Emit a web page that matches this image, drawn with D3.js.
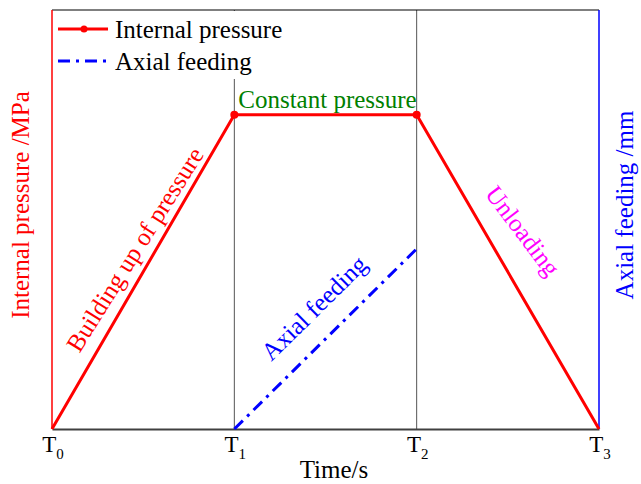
<!DOCTYPE html>
<html><head><meta charset="utf-8">
<script src="https://cdn.jsdelivr.net/npm/d3@7"></script>
<style>body{margin:0;background:#fff}text{font-family:"Liberation Serif","Times New Roman",serif}</style>
</head><body>
<script>
const times = [0, 1, 2, 3];
const tickLabels = ["0", "1", "2", "3"];
const pressureT = [0, 1, 2, 3];
const pressureV = [0, 0.75, 0.75, 0];
const markerIdx = [1, 2];
const feedT = [1, 2];
const feedV = [0, 0.43];
const phases = ["Building up of pressure", "Constant pressure", "Axial feeding", "Unloading"];

const W = 641, H = 484;
const m = {l: 52, r: 42, t: 10, b: 55};
const FS = 25;
const svg = d3.select("body").append("svg").attr("width", W).attr("height", H);
const x = d3.scaleLinear().domain([0, 3]).range([m.l, W - m.r]);
const y = d3.scaleLinear().domain([0, 1]).range([H - m.b, m.t]);
const y2 = d3.scaleLinear().domain([0, 1]).range([H - m.b, m.t]);

// vertical guide lines
svg.selectAll(".vg").data([1, 2]).enter().append("line")
  .attr("x1", d => x(d)).attr("x2", d => x(d))
  .attr("y1", y(1)).attr("y2", y(0)).attr("stroke", "#555").attr("stroke-width", 1);

// frame
svg.append("line").attr("x1", x(0)).attr("x2", x(3)).attr("y1", y(1)).attr("y2", y(1)).attr("stroke", "#000").attr("stroke-width", 1.2);
svg.append("line").attr("x1", x(0)).attr("x2", x(0)).attr("y1", y(1)).attr("y2", y(0)).attr("stroke", "#ff0000").attr("stroke-width", 1.5);
svg.append("line").attr("x1", x(3)).attr("x2", x(3)).attr("y1", y(1)).attr("y2", y(0)).attr("stroke", "#0000ff").attr("stroke-width", 1.5);

// legend background (covers guide)
const lg = svg.append("g");
lg.append("rect").attr("x", x(0) + 1).attr("y", y(1) + 1).attr("width", 240).attr("height", 68).attr("fill", "#fff");
lg.append("line").attr("x1", 58).attr("x2", 108).attr("y1", 29).attr("y2", 29).attr("stroke", "#ff0000").attr("stroke-width", 3);
lg.append("circle").attr("cx", 84).attr("cy", 29).attr("r", 3.5).attr("fill", "#ff0000");
lg.append("text").attr("x", 115).attr("y", 38).attr("font-size", FS).text("Internal pressure");
lg.append("line").attr("x1", 58).attr("x2", 108).attr("y1", 61).attr("y2", 61).attr("stroke", "#0000ff").attr("stroke-width", 3).attr("stroke-dasharray", "12,6,3,6");
lg.append("text").attr("x", 115).attr("y", 70).attr("font-size", FS).text("Axial feeding");

// x axis
const xAxis = d3.axisBottom(x).tickValues(times).tickSize(0).tickFormat("");
const ax = svg.append("g").attr("transform", `translate(0,${y(0)})`).call(xAxis);
ax.select(".domain").attr("stroke", "#404040").attr("stroke-width", 2.2);
const tl = svg.selectAll(".tl").data(times).enter().append("text")
  .attr("x", d => x(d) + 1).attr("y", y(0) + 23).attr("font-size", 23).attr("text-anchor", "middle");
tl.append("tspan").text("T");
tl.append("tspan").attr("dy", 7).attr("font-size", 15).text((d, i) => tickLabels[i]);

svg.append("text").attr("x", 334).attr("y", 478).attr("font-size", FS).attr("text-anchor", "middle").text("Time/s");
svg.append("text").attr("transform", "translate(29,205) rotate(-90)").attr("font-size", FS).attr("text-anchor", "middle").attr("fill", "#ff0000").text("Internal pressure /MPa");
svg.append("text").attr("transform", "translate(633,205) rotate(-90)").attr("font-size", FS).attr("text-anchor", "middle").attr("fill", "#0000ff").text("Axial feeding /mm");

// series
const pts = pressureT.map((t, i) => [t, pressureV[i]]);
const line = d3.line().x(d => x(d[0])).y(d => y(d[1]));
svg.append("path").datum(pts).attr("d", line).attr("fill", "none").attr("stroke", "#ff0000").attr("stroke-width", 3);
svg.selectAll(".mk").data(markerIdx.map(i => pts[i])).enter().append("circle")
  .attr("cx", d => x(d[0])).attr("cy", d => y(d[1])).attr("r", 4).attr("fill", "#ff0000");
const fpts = feedT.map((t, i) => [t, feedV[i]]);
const line2 = d3.line().x(d => x(d[0])).y(d => y2(d[1]));
svg.append("path").datum(fpts).attr("d", line2).attr("fill", "none").attr("stroke", "#0000ff").attr("stroke-width", 3).attr("stroke-dasharray", "12,6,3,6");

// annotations
const ang1 = Math.atan2(y(0) - y(0.75), x(1) - x(0)) * 180 / Math.PI;
svg.append("text").attr("transform", `translate(142,254) rotate(${-ang1 + 2})`).attr("font-size", FS).attr("text-anchor", "middle").attr("fill", "#ff0000").text(phases[0]);
svg.append("text").attr("x", (x(1) + x(2)) / 2 + 2).attr("y", 108).attr("font-size", FS).attr("text-anchor", "middle").attr("fill", "#008000").text(phases[1]);
const ang2 = Math.atan2(y2(0) - y2(0.43), x(2) - x(1)) * 180 / Math.PI;
svg.append("text").attr("transform", `translate(320,314) rotate(${-ang2})`).attr("font-size", FS).attr("text-anchor", "middle").attr("fill", "#0000ff").text(phases[2]);
svg.append("text").attr("transform", `translate(516,236) rotate(${ang1 - 7})`).attr("font-size", FS).attr("text-anchor", "middle").attr("fill", "#ff00ff").text(phases[3]);
</script>
</body></html>
